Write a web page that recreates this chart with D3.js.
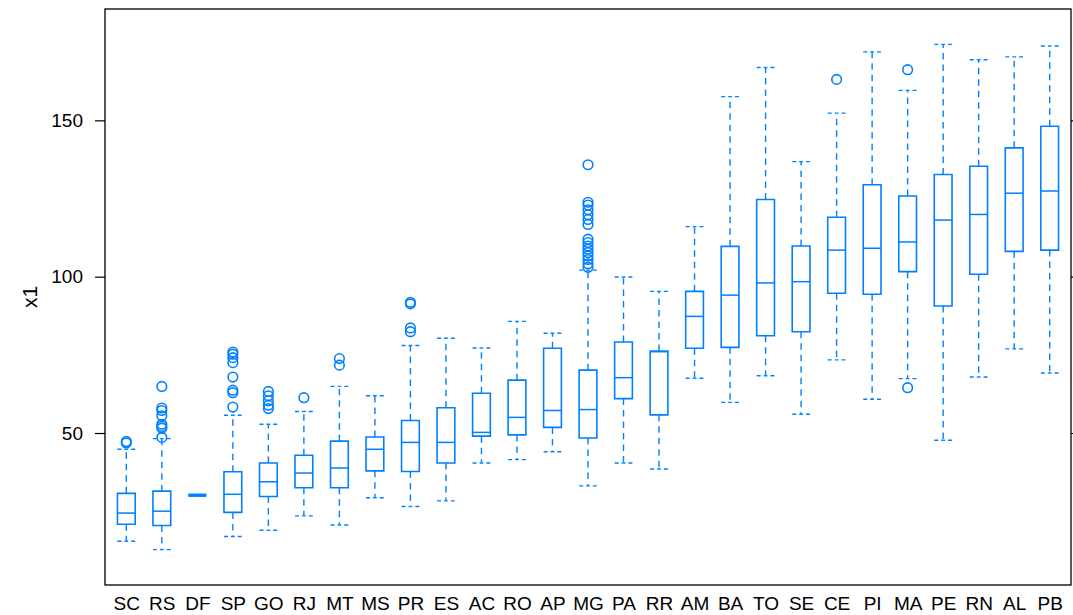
<!DOCTYPE html>
<html>
<head>
<meta charset="utf-8">
<script src="https://cdn.jsdelivr.net/npm/d3@7"></script>
<style>
  body { margin: 0; background: #fff; }
  svg text { font-family: "Liberation Sans", Arial, sans-serif; fill: #000; }
</style>
</head>
<body>
<div id="chart"></div>
<script>
// states, ordered by median as in the original plot
const categories = ['SC','RS','DF','SP','GO','RJ','MT','MS','PR','ES','AC','RO','AP','MG','PA','RR','AM','BA','TO','SE','CE','PI','MA','PE','RN','AL','PB'];

// five-number summaries
const whiskerLow  = [15.4, 12.7, 30.1, 16.9, 18.9, 23.5, 20.6, 29.3, 26.5, 28.3, 40.4, 41.5, 44.0, 33.1, 40.4, 38.5, 67.5, 59.8, 68.3, 56.0, 73.4, 60.8, 67.4, 47.7, 67.9, 76.9, 69.2];
const lowerHinge  = [20.8, 20.4, 30.1, 24.6, 29.7, 32.5, 32.5, 37.9, 37.7, 40.4, 49.0, 49.4, 51.8, 48.4, 61.0, 55.8, 77.1, 77.4, 81.1, 82.4, 94.7, 94.4, 101.6, 90.6, 100.8, 108.1, 108.5];
const medians     = [24.4, 25.0, 30.1, 30.4, 34.4, 37.2, 38.8, 44.8, 47.0, 47.0, 50.2, 55.0, 57.2, 57.5, 67.7, 76.0, 87.3, 94.1, 98.0, 98.4, 108.5, 109.1, 111.1, 118.1, 119.9, 126.7, 127.4];
const upperHinge  = [30.7, 31.4, 30.1, 37.6, 40.4, 42.9, 47.4, 48.7, 54.0, 58.1, 62.7, 66.9, 77.1, 70.1, 79.1, 76.2, 95.3, 109.7, 124.7, 109.8, 119.0, 129.4, 125.8, 132.7, 135.3, 141.2, 148.1];
const whiskerHigh = [44.8, 48.2, 30.1, 55.7, 52.8, 56.9, 64.9, 61.9, 78.0, 80.3, 77.2, 85.7, 81.9, 102.1, 99.9, 95.3, 116.0, 157.6, 166.9, 136.8, 152.3, 171.9, 159.6, 174.3, 169.4, 170.3, 173.8];

const outliers = [
  [47.3, 46.8],
  [64.9, 58.0, 57.2, 55.5, 52.8, 52.1, 51.5, 48.6],
  [],
  [75.9, 75.2, 74.1, 72.5, 67.9, 63.7, 62.9, 58.3],
  [63.3, 61.9, 60.3, 58.9, 57.8],
  [61.3],
  [73.8, 71.7],
  [],
  [91.8, 91.3, 83.6, 82.4],
  [], [], [], [],
  [135.8, 123.8, 122.9, 121.4, 119.8, 118.3, 116.7, 112.0, 110.9, 109.8, 108.8, 107.7, 106.6, 105.5, 104.1, 103.0],
  [], [], [], [], [], [],
  [163.1],
  [],
  [166.2, 64.5],
  [], [], [], []
];

const yTicks = [50, 100, 150];

const W = 1073, H = 615;
const margin = { top: 9, right: 2, bottom: 30, left: 105 };
const col = '#0080ff';

const svg = d3.select('#chart').append('svg')
  .attr('width', W).attr('height', H);

const x = d3.scalePoint()
  .domain(categories)
  .range([margin.left, W - margin.right])
  .padding(0.6);

// lattice style: extend data range by 7% each side
const all = whiskerLow.concat(whiskerHigh, outliers.flat());
const lo = d3.min(all), hi = d3.max(all), pad = (hi - lo) * 0.07;
const y = d3.scaleLinear()
  .domain([lo - pad, hi + pad])
  .range([H - margin.bottom, margin.top]);

const boxW = x.step() * 0.5;

// panel frame
svg.append('rect')
  .attr('x', margin.left).attr('y', margin.top)
  .attr('width', W - margin.right - margin.left)
  .attr('height', H - margin.bottom - margin.top)
  .attr('fill', 'none').attr('stroke', '#000').attr('stroke-width', 1.3);

// axes
const yAxisL = svg.append('g')
  .attr('transform', `translate(${margin.left},0)`)
  .call(d3.axisLeft(y).tickValues(yTicks).tickSize(10).tickSizeOuter(0).tickPadding(12));
const yAxisR = svg.append('g')
  .attr('transform', `translate(${W - margin.right},0)`)
  .call(d3.axisRight(y).tickValues(yTicks).tickSize(10).tickSizeOuter(0).tickFormat(''));
const xAxis = svg.append('g')
  .attr('transform', `translate(0,${H - margin.bottom})`)
  .call(d3.axisBottom(x).tickSize(0).tickPadding(12));

[yAxisL, yAxisR, xAxis].forEach(g => {
  g.select('.domain').remove();
  g.selectAll('line').attr('stroke', '#000').attr('stroke-width', 1.2);
  g.selectAll('text').attr('font-size', 19).attr('font-family', '"Liberation Sans", Arial, sans-serif');
});

svg.append('text')
  .attr('transform', `translate(37,${(margin.top + H - margin.bottom) / 2}) rotate(-90)`)
  .attr('text-anchor', 'middle')
  .attr('font-size', 21)
  .text('x1');

const g = svg.append('g');

categories.forEach((c, i) => {
  const cx = x(c);
  const x0 = cx - boxW / 2, x1 = cx + boxW / 2;

  // whiskers (dashed)
  [[upperHinge[i], whiskerHigh[i]], [lowerHinge[i], whiskerLow[i]]].forEach(([a, b]) => {
    if (a === b) return;
    g.append('line')
      .attr('x1', cx).attr('x2', cx)
      .attr('y1', y(a)).attr('y2', y(b))
      .attr('stroke', col).attr('stroke-width', 1.4)
      .attr('stroke-dasharray', '6.5,5');
  });

  // caps drawn from the ends to the centre
  [whiskerHigh[i], whiskerLow[i]].forEach(v => {
    if (whiskerHigh[i] === whiskerLow[i]) return;
    [[x0, cx], [x1, cx]].forEach(([a, b]) => {
      g.append('line')
        .attr('x1', a).attr('x2', b)
        .attr('y1', y(v)).attr('y2', y(v))
        .attr('stroke', col).attr('stroke-width', 1.4)
        .attr('stroke-dasharray', '4,3');
    });
  });

  const flat = upperHinge[i] === lowerHinge[i];

  // box
  g.append('path')
    .attr('d', `M${x0},${y(upperHinge[i])}H${x1}V${y(lowerHinge[i])}H${x0}Z`)
    .attr('fill', 'none').attr('stroke', col).attr('stroke-width', flat ? 3 : 1.6);

  // median
  g.append('line')
    .attr('x1', x0).attr('x2', x1)
    .attr('y1', y(medians[i])).attr('y2', y(medians[i]))
    .attr('stroke', col).attr('stroke-width', flat ? 3 : 1.5);

  // outliers
  g.selectAll(null)
    .data(outliers[i])
    .enter()
    .append('circle')
    .attr('cx', cx)
    .attr('cy', d => y(d))
    .attr('r', 4.8)
    .attr('fill', 'none')
    .attr('stroke', col)
    .attr('stroke-width', 1.6);
});
</script>
</body>
</html>
